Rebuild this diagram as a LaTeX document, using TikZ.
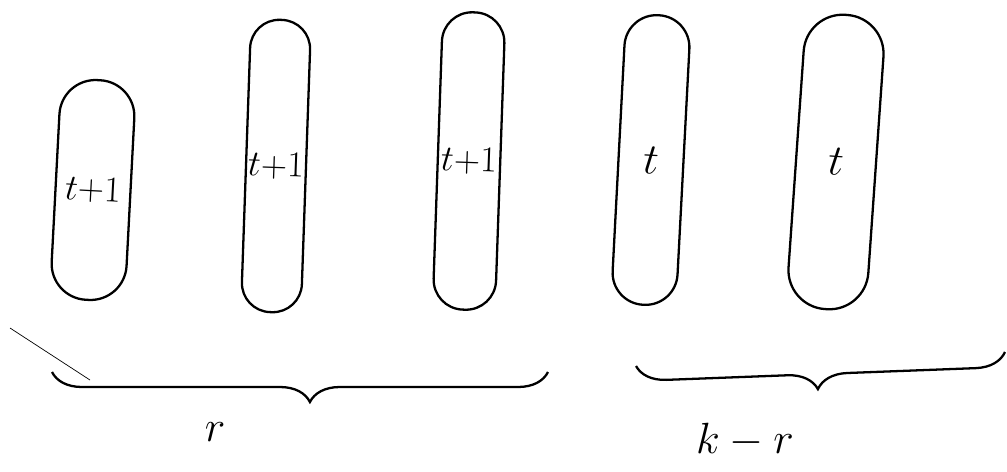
\documentclass[tikz,border=0pt]{standalone}
\usepackage{amsmath,amssymb}
\usetikzlibrary{positioning,shapes.geometric,decorations.pathreplacing}

\begin{document}
\begin{tikzpicture}[x=0.02cm,y=-0.02cm,
  slot/.style={draw,line width=1.3pt,rounded corners=0.6cm,
              minimum width=1.25cm,inner sep=0pt,font=\huge},
  grp/.style={decorate,line width=1.3pt,
              decoration={brace,mirror,amplitude=0.6cm}},
  lbl/.style={font=\Huge}]
  \useasboundingbox (0,0) rectangle (1007,471);
  % the k slots
  \node[slot,minimum width=1.5cm,minimum height=4.4cm,rotate=-3,rounded corners=0.72cm] (S1) at (93,190) {$t{+}1$};
  \node[slot,minimum width=1.2cm,minimum height=5.85cm,rotate=-2,rounded corners=0.58cm] (S2) at (276,166) {$t{+}1$};
  \node[slot,minimum height=5.95cm,rotate=-2] (S3) at (469,161) {$t{+}1$};
  \node[slot,font=\Huge,minimum width=1.3cm,minimum height=5.8cm,rotate=-3,rounded corners=0.64cm] (S4) at (651,160) {$t$};
  \node[slot,font=\Huge,minimum width=1.6cm,minimum height=5.9cm,rotate=-4,rounded corners=0.78cm] (S5) at (836,162) {$t$};
  % groups
  \coordinate (B1l) at (52,372);
  \coordinate (B1r) at (548,372);
  \coordinate (B2l) at (636,366);
  \coordinate (B2r) at (1005,352);
  \draw[grp,decoration={aspect=0.52}] (B1l) -- (B1r);
  \draw[grp,decoration={aspect=0.49}] (B2l) -- (B2r);
  \node[lbl] (R) at (215,432) {$r$};
  \node[lbl] (KR) at (745,440) {$k-r$};
  \draw[thin] (10,328) -- (90,380);
\end{tikzpicture}
\end{document}
